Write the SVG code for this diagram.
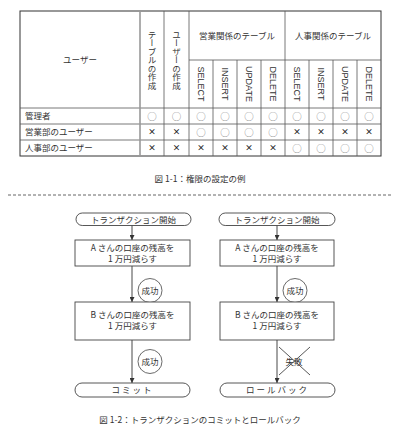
<svg xmlns="http://www.w3.org/2000/svg" width="400" height="432" viewBox="0 0 400 432">
<defs>
<style>
text{font-family:"Noto Sans CJK JP","Liberation Sans",sans-serif;fill:#333;}
.t{font-size:8.5px;}
.c{text-anchor:middle;}
.v{font-size:8.5px;writing-mode:vertical-rl;text-anchor:middle;}
.r{font-family:"Liberation Sans",sans-serif;font-size:9px;text-anchor:middle;}
.ln{stroke:#555;stroke-width:0.8;fill:none;}
.o{font-size:9.5px;fill:#888;text-anchor:middle;}
.x{font-size:8px;font-weight:bold;text-anchor:middle;fill:#222;}
.box{fill:#fff;stroke:#444;stroke-width:0.9;}
.arr{stroke:#333;stroke-width:0.9;fill:none;marker-end:url(#ah);}
</style>
<marker id="ah" viewBox="0 0 8 8" refX="8" refY="4" markerWidth="5" markerHeight="5" orient="auto" markerUnits="userSpaceOnUse">
<path d="M0,0 L8,4 L0,8 Z" fill="#333"/>
</marker>
</defs>
<rect width="400" height="432" fill="#fff"/>
<g id="table">
<rect x="20" y="11" width="361" height="145" fill="none" stroke="#333" stroke-width="1"/>
<path class="ln" d="M189,60H381 M20,108H381 M20,124H381 M20,140H381 M164,11V156 M189,11V156 M213,60V156 M237,60V156 M261,60V156 M285,11V156 M309,60V156 M333,60V156 M357,60V156"/>
<path d="M140,11V156" stroke="#999" stroke-width="1.6"/>
<text class="t c" x="80" y="63">ユーザー</text>
<text class="v" x="152" y="60">テーブルの作成</text>
<text class="v" x="176.5" y="60">ユーザーの作成</text>
<text class="t c" x="237" y="39">営業関係のテーブル</text>
<text class="t c" x="333" y="39">人事関係のテーブル</text>
<text class="r" transform="translate(198,84) rotate(90)">SELECT</text>
<text class="r" transform="translate(222,84) rotate(90)">INSERT</text>
<text class="r" transform="translate(246,84) rotate(90)">UPDATE</text>
<text class="r" transform="translate(270,84) rotate(90)">DELETE</text>
<text class="r" transform="translate(294,84) rotate(90)">SELECT</text>
<text class="r" transform="translate(318,84) rotate(90)">INSERT</text>
<text class="r" transform="translate(342,84) rotate(90)">UPDATE</text>
<text class="r" transform="translate(366,84) rotate(90)">DELETE</text>
<text class="t" x="25" y="119">管理者</text>
<text class="t" x="25" y="135">営業部のユーザー</text>
<text class="t" x="25" y="151">人事部のユーザー</text>
<g>
<text class="o" x="152" y="119.5">○</text><text class="o" x="176.5" y="119.5">○</text><text class="o" x="201" y="119.5">○</text><text class="o" x="225" y="119.5">○</text><text class="o" x="249" y="119.5">○</text><text class="o" x="273" y="119.5">○</text><text class="o" x="297" y="119.5">○</text><text class="o" x="321" y="119.5">○</text><text class="o" x="345" y="119.5">○</text><text class="o" x="369" y="119.5">○</text>
<text class="x" x="152" y="135">×</text><text class="x" x="176.5" y="135">×</text><text class="o" x="201" y="135.5">○</text><text class="o" x="225" y="135.5">○</text><text class="o" x="249" y="135.5">○</text><text class="o" x="273" y="135.5">○</text><text class="x" x="297" y="135">×</text><text class="x" x="321" y="135">×</text><text class="x" x="345" y="135">×</text><text class="x" x="369" y="135">×</text>
<text class="x" x="152" y="151">×</text><text class="x" x="176.5" y="151">×</text><text class="x" x="201" y="151">×</text><text class="x" x="225" y="151">×</text><text class="x" x="249" y="151">×</text><text class="x" x="273" y="151">×</text><text class="o" x="297" y="151.5">○</text><text class="o" x="321" y="151.5">○</text><text class="o" x="345" y="151.5">○</text><text class="o" x="369" y="151.5">○</text>
</g>
</g>
<text class="t c" x="200" y="182">図 1-1：権限の設定の例</text>
<line x1="8" y1="195" x2="393" y2="195" stroke="#555" stroke-width="0.9" stroke-dasharray="3,2"/>
<g id="connectors">
<line class="arr" x1="132" y1="225" x2="132" y2="240"/>
<line class="arr" x1="132" y1="266" x2="132" y2="302"/>
<line class="arr" x1="132" y1="340" x2="132" y2="383"/>
<line class="arr" x1="277" y1="225" x2="277" y2="240"/>
<line class="arr" x1="277" y1="266" x2="277" y2="302"/>
<line class="arr" x1="277" y1="340" x2="277" y2="383"/>
</g>
<g id="start-left"><rect class="box" x="76" y="213" width="115" height="12.5" rx="6.25"/><text class="t c" x="133.5" y="222.5">トランザクション開始</text></g>
<g id="a-left"><rect class="box" x="75" y="240" width="115" height="26"/><text class="t c" x="132.5" y="251">A さんの口座の残高を</text><text class="t c" x="132.5" y="262">1 万円減らす</text></g>
<g id="ok1-left"><circle cx="150" cy="290.5" r="12" fill="#fff" stroke="#444" stroke-width="0.8"/><text class="t c" x="150" y="293.5">成功</text></g>
<g id="b-left"><rect class="box" x="75" y="302" width="115" height="38"/><text class="t c" x="132.5" y="318">B さんの口座の残高を</text><text class="t c" x="132.5" y="329">1 万円減らす</text></g>
<g id="ok2-left"><circle cx="150" cy="361.5" r="12" fill="#fff" stroke="#444" stroke-width="0.8"/><text class="t c" x="150" y="364.5">成功</text></g>
<g id="commit"><rect class="box" x="75" y="383" width="115" height="14" rx="7"/><text class="t c" x="132.5" y="393" fill="#555" letter-spacing="2">コミット</text></g>
<g id="start-right"><rect class="box" x="219" y="213" width="116" height="12.5" rx="6.25"/><text class="t c" x="277" y="222.5">トランザクション開始</text></g>
<g id="a-right"><rect class="box" x="220" y="240" width="114" height="26"/><text class="t c" x="277" y="251">A さんの口座の残高を</text><text class="t c" x="277" y="262">1 万円減らす</text></g>
<g id="ok1-right"><circle cx="295" cy="290.5" r="12" fill="#fff" stroke="#444" stroke-width="0.8"/><text class="t c" x="295" y="293.5">成功</text></g>
<g id="b-right"><rect class="box" x="220" y="302" width="114" height="38"/><text class="t c" x="277" y="318">B さんの口座の残高を</text><text class="t c" x="277" y="329">1 万円減らす</text></g>
<g id="fail"><text class="t c" x="294" y="364.5">失敗</text><path d="M279,347 L310,375 M310,347 L279,375" stroke="#444" stroke-width="0.9"/></g>
<g id="rollback"><rect class="box" x="220" y="383" width="115" height="14" rx="7"/><text class="t c" x="277.5" y="393" fill="#555" letter-spacing="2">ロールバック</text></g>
<text class="t c" x="200" y="423">図 1-2：トランザクションのコミットとロールバック</text>
</svg>
